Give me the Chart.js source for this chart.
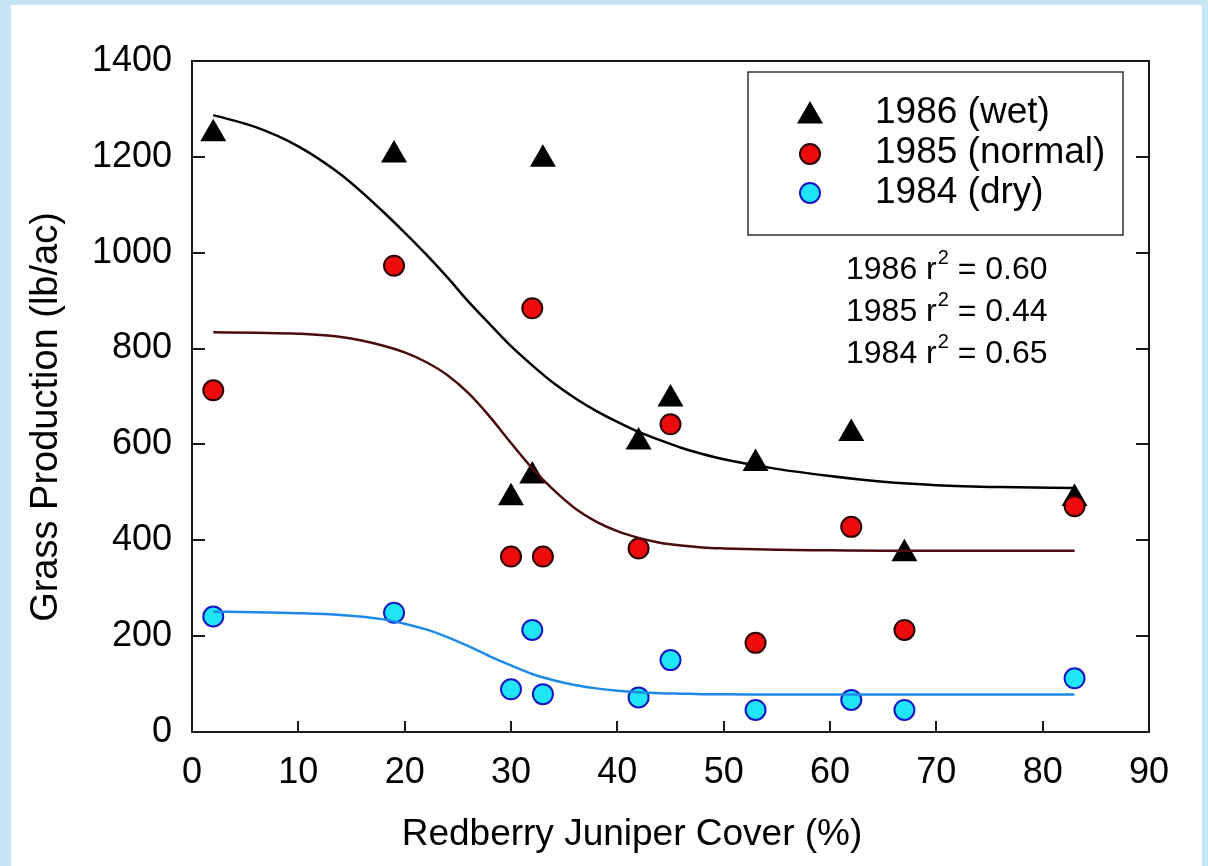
<!DOCTYPE html>
<html>
<head>
<meta charset="utf-8">
<title>Grass Production vs Redberry Juniper Cover</title>
<script src="https://cdn.jsdelivr.net/npm/chart.js@4/dist/chart.umd.min.js"></script>
<style>
  html, body { margin: 0; padding: 0; width: 1208px; height: 866px; overflow: hidden; background: #c5e4f4; }
  #panel { position: absolute; left: 11px; top: 5px; width: 1191px; height: 861px; background: #ffffff; }
  #wrap { position: absolute; left: 0; top: 0; width: 1208px; height: 866px; }
</style>
</head>
<body>
<div id="panel"></div>
<div id="wrap"><canvas id="c" width="1208" height="866"></canvas></div>
<script>
// Juniper cover (%) of each sampled site
const coverPct = [2, 19, 30, 32, 33, 42, 45, 53, 62, 67, 83];

// Grass production (lb/ac) per site and year
const wet1986    = [1248, 1204, 489, 534, 1195, 605, 695, 560, 623, 372, 487];
const normal1985 = [713, 973, 366, 884, 366, 383, 642, 186, 428, 213, 471];
const dry1984    = [241, 249, 89, 213, 79, 72, 150, 46, 67, 46, 112];

// Fitted sigmoid curves, sampled along the cover axis
const fitX    = [2, 6, 10, 14, 18, 20, 22, 24, 26, 28, 30, 32, 34, 36, 38, 40, 42, 44, 46, 48, 50, 55, 60, 65, 70, 76, 83];
const fit1986 = [1287, 1262, 1222, 1163, 1085, 1042, 997, 949, 898, 851, 805, 765, 728, 697, 670, 647, 626, 609, 593, 580, 569, 549, 534, 522, 515, 511, 509];
const fit1985 = [834, 833, 831, 824, 806, 792, 772, 745, 707, 658, 603, 550, 505, 467, 439, 419, 405, 395, 389, 385, 383, 380, 379, 378, 378, 378, 378];
const fit1984 = [251, 250, 248, 244, 235, 226, 214, 198, 179, 158, 139, 121, 108, 98, 91, 86, 83, 81, 80, 79, 79, 78, 78, 78, 78, 78, 78];

// Axis ticks
const xTicks = [0, 10, 20, 30, 40, 50, 60, 70, 80, 90];
const yTicks = [0, 200, 400, 600, 800, 1000, 1200, 1400];

const seriesNames = ['1986 (wet)', '1985 (normal)', '1984 (dry)'];
const r2Years  = ['1986', '1985', '1984'];
const r2Values = ['0.60', '0.44', '0.65'];

const xTitle = 'Redberry Juniper Cover (%)';
const yTitle = 'Grass Production (lb/ac)';

const FONT = '"Liberation Sans", Arial, Helvetica, sans-serif';

const C_TRI = '#000000';
const C_RED_FILL = '#ee0b0b', C_RED_EDGE = '#2a0000';
const C_CYAN_FILL = '#1fe6f7', C_CYAN_EDGE = '#1616c4';
const C_FIT_BLACK = '#000000', C_FIT_RED = '#4a0d0d', C_FIT_BLUE = '#1e8ae8';

const pts = (xs, ys) => xs.map((v, i) => ({ x: v, y: ys[i] }));

function drawMarker(ctx, kind, x, y) {
  ctx.save();
  if (kind === 'tri') {
    const r = 15;
    ctx.beginPath();
    ctx.moveTo(x, y - r);
    ctx.lineTo(x + r * Math.sin(2 * Math.PI / 3), y - r * Math.cos(2 * Math.PI / 3));
    ctx.lineTo(x + r * Math.sin(4 * Math.PI / 3), y - r * Math.cos(4 * Math.PI / 3));
    ctx.closePath();
    ctx.fillStyle = C_TRI; ctx.fill();
  } else {
    ctx.beginPath();
    ctx.arc(x, y, 10, 0, Math.PI * 2);
    ctx.fillStyle = kind === 'red' ? C_RED_FILL : C_CYAN_FILL;
    ctx.fill();
    ctx.lineWidth = 2;
    ctx.strokeStyle = kind === 'red' ? C_RED_EDGE : C_CYAN_EDGE;
    ctx.stroke();
  }
  ctx.restore();
}

const decor = {
  id: 'decor',
  afterDraw(chart) {
    const { ctx, chartArea: a, scales: { x, y } } = chart;
    ctx.save();

    // plot frame
    ctx.strokeStyle = '#1a1a1a';
    ctx.lineWidth = 2;
    ctx.strokeRect(a.left, a.top, a.right - a.left, a.bottom - a.top);

    // inward tick marks: bottom, left and right
    ctx.beginPath();
    xTicks.forEach(v => {
      if (v === xTicks[0] || v === xTicks[xTicks.length - 1]) return;
      const px = Math.round(x.getPixelForValue(v));
      ctx.moveTo(px, a.bottom);
      ctx.lineTo(px, a.bottom - 11);
    });
    yTicks.forEach(v => {
      if (v === yTicks[0] || v === yTicks[yTicks.length - 1]) return;
      const py = Math.round(y.getPixelForValue(v));
      ctx.moveTo(a.left, py); ctx.lineTo(a.left + 13, py);
      ctx.moveTo(a.right, py); ctx.lineTo(a.right - 13, py);
    });
    ctx.stroke();

    // axis titles
    ctx.fillStyle = '#000';
    ctx.font = '37px ' + FONT;
    ctx.textAlign = 'center';
    ctx.textBaseline = 'middle';
    ctx.fillText(xTitle, 632, 835);
    ctx.save();
    ctx.translate(47, 417);
    ctx.rotate(-Math.PI / 2);
    ctx.font = '38px ' + FONT;
    ctx.fillText(yTitle, 0, 0);
    ctx.restore();

    // legend
    ctx.lineWidth = 1.5;
    ctx.strokeStyle = '#333';
    ctx.strokeRect(748, 72, 375, 163);
    const kinds = ['tri', 'red', 'cyan'];
    const rowY = [113, 153, 193];
    const markY = [116, 154, 193];
    ctx.font = '37px ' + FONT;
    ctx.textAlign = 'left';
    ctx.textBaseline = 'middle';
    ctx.fillStyle = '#000';
    seriesNames.forEach((name, i) => {
      drawMarker(ctx, kinds[i], 810, markY[i]);
      ctx.fillText(name, 875, rowY[i]);
    });

    // coefficient of determination labels
    const r2Y = [270, 312, 354];
    r2Years.forEach((yr, i) => {
      let cx = 846;
      ctx.font = '32px ' + FONT;
      ctx.textBaseline = 'middle';
      const head = yr + ' r';
      ctx.fillText(head, cx, r2Y[i]);
      cx += ctx.measureText(head).width;
      ctx.font = '20px ' + FONT;
      ctx.fillText('2', cx + 1, r2Y[i] - 12);
      cx += ctx.measureText('2').width + 1;
      ctx.font = '32px ' + FONT;
      ctx.fillText(' = ' + r2Values[i], cx, r2Y[i]);
    });

    ctx.restore();
  }
};

new Chart(document.getElementById('c'), {
  type: 'scatter',
  data: {
    datasets: [
      { label: 'fit 1986', data: pts(fitX, fit1986), showLine: true, borderColor: C_FIT_BLACK, borderWidth: 2.5, pointRadius: 0, cubicInterpolationMode: 'monotone', fill: false },
      { label: 'fit 1985', data: pts(fitX, fit1985), showLine: true, borderColor: C_FIT_RED, borderWidth: 2.5, pointRadius: 0, cubicInterpolationMode: 'monotone', fill: false },
      { label: 'fit 1984', data: pts(fitX, fit1984), showLine: true, borderColor: C_FIT_BLUE, borderWidth: 2.5, pointRadius: 0, cubicInterpolationMode: 'monotone', fill: false },
      { label: seriesNames[2], data: pts(coverPct, dry1984), pointStyle: 'circle', pointRadius: 10, backgroundColor: C_CYAN_FILL, borderColor: C_CYAN_EDGE, borderWidth: 2 },
      { label: seriesNames[1], data: pts(coverPct, normal1985), pointStyle: 'circle', pointRadius: 10, backgroundColor: C_RED_FILL, borderColor: C_RED_EDGE, borderWidth: 2 },
      { label: seriesNames[0], data: pts(coverPct, wet1986), pointStyle: 'triangle', pointRadius: 15, backgroundColor: C_TRI, borderColor: C_TRI, borderWidth: 0 }
    ]
  },
  options: {
    responsive: false,
    animation: false,
    events: [],
    devicePixelRatio: 1,
    layout: { padding: { left: 0, top: 61, right: 59, bottom: 54 } },
    plugins: { legend: { display: false }, tooltip: { enabled: false } },
    scales: {
      x: {
        type: 'linear', min: 0, max: 90,
        afterBuildTicks: s => { s.ticks = xTicks.map(v => ({ value: v })); },
        afterFit: s => { s.height = 80; },
        grid: { display: false, drawTicks: false },
        border: { display: false },
        ticks: { autoSkip: false, maxRotation: 0, padding: 19, color: '#000', font: { family: FONT, size: 36 }, callback: v => String(v) }
      },
      y: {
        type: 'linear', min: 0, max: 1400,
        afterBuildTicks: s => { s.ticks = yTicks.map(v => ({ value: v })); },
        afterFit: s => { s.width = 192; },
        grid: { display: false, drawTicks: false },
        border: { display: false },
        ticks: { autoSkip: false, padding: 20, color: '#000', font: { family: FONT, size: 36 }, callback: v => String(v) }
      }
    }
  },
  plugins: [decor]
});
</script>
</body>
</html>
